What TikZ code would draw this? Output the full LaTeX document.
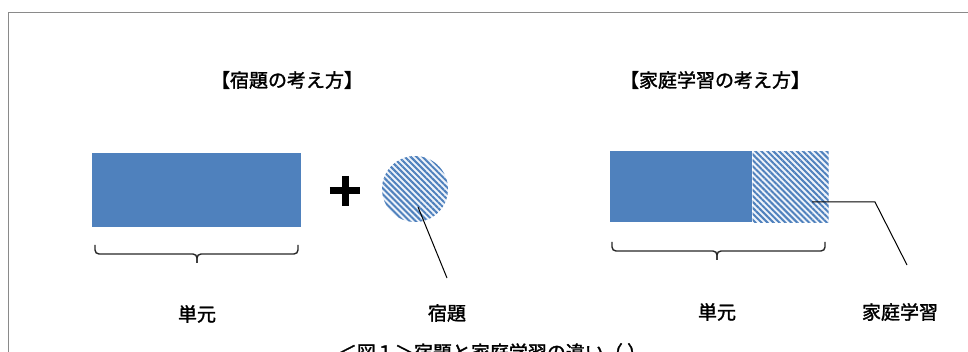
\documentclass[tikz,border=0pt]{standalone}
\usepackage{fontspec}
\newfontfamily\cjk{Noto Sans CJK JP}[FakeBold=1.6]
\usetikzlibrary{patterns.meta}
\definecolor{unitblue}{HTML}{4F81BD}
\definecolor{hatchbg}{HTML}{EEF3FA}
\definecolor{framegray}{HTML}{8A8A8A}
\tikzset{
  unitbox/.style={draw=none, fill=unitblue, inner sep=0pt},
  hatchbox/.style={draw=none, fill=hatchbg, inner sep=0pt,
    postaction={pattern={Lines[angle=-45, distance=4.2pt, line width=2pt]}, pattern color=unitblue}},
  brace/.style={draw=black!85, line width=1.4pt, rounded corners=4pt},
  leader/.style={draw=black, line width=1pt},
  lbl/.style={font=\cjk\fontsize{19}{22}\selectfont, inner sep=0pt},
  ttl/.style={font=\cjk\fontsize{19}{22}\selectfont, inner sep=0pt}
}
\begin{document}
\begin{tikzpicture}[x=1pt, y=-1pt]
\useasboundingbox (0,0) rectangle (968,352);
\clip (0,0) rectangle (968,352);
% frame
\draw[framegray, line width=1.5pt] (8.5,352) -- (8.5,12.5) -- (968,12.5);
% titles
\node[ttl] (t1) at (287,80) {【宿題の考え方】};
\node[ttl] (t2) at (715,80) {【家庭学習の考え方】};
% left: unit rectangle
\node[unitbox, minimum width=209pt, minimum height=74pt] (u1) at (196.5,190) {};
% plus
\node[inner sep=0pt, minimum size=30pt] (plus) at (345,191) {};
\draw[line width=7pt] (plus.west) -- (plus.east);
\draw[line width=7pt] (plus.north) -- (plus.south);
% homework circle
\node[hatchbox, circle, minimum size=66pt] (hw) at (415,189) {};
% braces left
\coordinate (b1l) at (95,245);
\coordinate (b1r) at (298,245);
\coordinate (b1m) at (197,263);
\draw[brace] (b1l) -- (b1l |- 0,254) -- (b1m |- 0,254) -- (b1m);
\draw[brace] (b1r) -- (b1r |- 0,254) -- (b1m |- 0,254) -- (b1m);
% labels left
\node[lbl] (l1) at (197,314) {単元};
\node[lbl] (l2) at (447,313) {宿題};
\coordinate (hwend) at (447,278);
\draw[leader] (418,207) -- (hwend);
% right: unit + hatched
\node[unitbox, minimum width=142pt, minimum height=71pt, anchor=north west] (u2) at (610,151) {};
\node[hatchbox, minimum width=76pt, minimum height=71pt, anchor=north west] (hl) at (u2.north east) {};
% braces right
\coordinate (b2l) at (612,242);
\coordinate (b2r) at (825,242);
\coordinate (b2m) at (717,260);
\draw[brace] (b2l) -- (b2l |- 0,251) -- (b2m |- 0,251) -- (b2m);
\draw[brace] (b2r) -- (b2r |- 0,251) -- (b2m |- 0,251) -- (b2m);
% leader right
\coordinate (hlp) at (812,202);
\coordinate (hlk) at (875,202);
\coordinate (hle) at (907,265);
\draw[leader] (hlp) -- (hlk) -- (hle);
\node[lbl] (l3) at (717,312) {単元};
\node[lbl] (l4) at (900,312) {家庭学習};
% caption (cut off at bottom, as in the reference)
\node[font=\cjk\fontsize{19}{22}\selectfont, inner sep=0pt, anchor=north] (cap) at (492,343) {＜図１＞宿題と家庭学習の違い（ ）};
\end{tikzpicture}
\end{document}
